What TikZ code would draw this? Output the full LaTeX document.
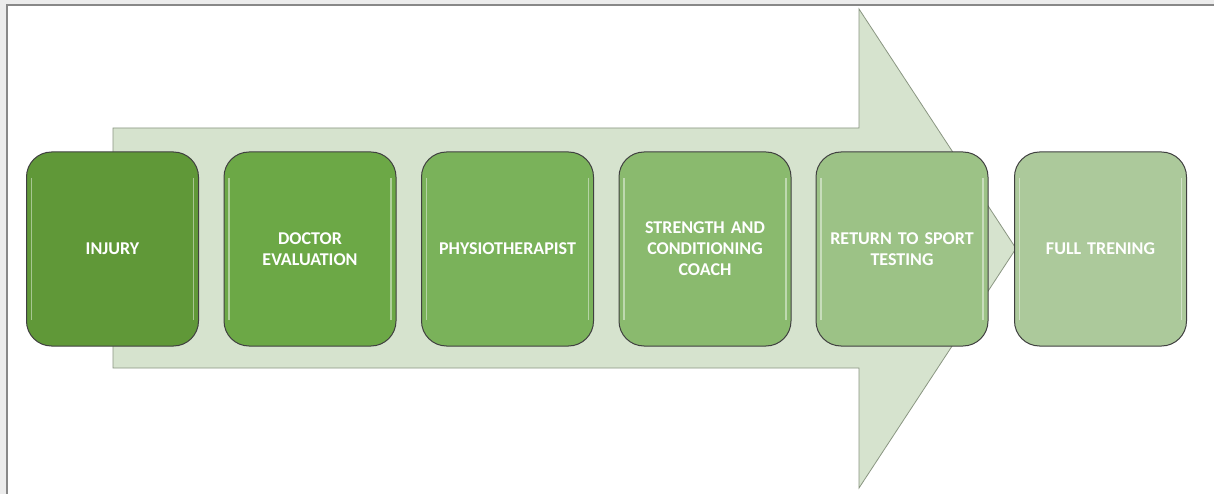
\documentclass[tikz,border=0pt]{standalone}
\usepackage{fontspec}
\setmainfont{Carlito}
\usepackage{tikz}

\definecolor{framegray}{RGB}{136,136,136}
\definecolor{pagegray}{RGB}{236,236,236}
\definecolor{arrowfill}{RGB}{214,227,206}
\definecolor{arrowline}{RGB}{138,150,130}
\definecolor{stepA}{RGB}{96,152,56}
\definecolor{stepB}{RGB}{108,168,70}
\definecolor{stepC}{RGB}{122,178,90}
\definecolor{stepD}{RGB}{138,186,110}
\definecolor{stepE}{RGB}{156,194,134}
\definecolor{stepF}{RGB}{172,201,155}

\begin{document}
\begin{tikzpicture}
            [x=1pt,y=1pt,every node/.style={rectangle,rounded corners=25pt,draw=black!75,line width=1pt,
              minimum width=172pt,minimum height=194pt,text width=160pt,align=center,
              font=\bfseries\fontsize{18}{21}\selectfont,text=white,
              path picture={
                \draw[white,opacity=.45,line width=1.8pt]
                  ([xshift=5pt,yshift=-26pt]path picture bounding box.north west) -- ([xshift=5pt,yshift=26pt]path picture bounding box.south west);
                \draw[white,opacity=.45,line width=1.8pt]
                  ([xshift=-5pt,yshift=-26pt]path picture bounding box.north east) -- ([xshift=-5pt,yshift=26pt]path picture bounding box.south east);
              }}]
            \useasboundingbox (0,0) rectangle (1214,493);
            \fill[pagegray] (-5,-5) rectangle (1220,500);
            \fill[white] (7,-5) rectangle (1220,488);
            \draw[framegray,line width=2pt] (7,-5) -- (7,488) -- (1220,488);
            \draw[arrowline,fill=arrowfill,line width=0.8pt] (113,125) -- (113,365) -- (859,365) -- (859,484)
                -- (1016,244.5) -- (859,5) -- (859,125) -- cycle;
            \node[fill=stepA] (injury) at (112.5,244) {INJURY};
            \node[fill=stepB] (doctor) at (310,244) {DOCTOR\\EVALUATION};
            \node[fill=stepC] (physio) at (507.5,244) {PHYSIOTHERAPIST};
            \node[fill=stepD] (coach) at (705,244) {STRENGTH AND\\CONDITIONING\\COACH};
            \node[fill=stepE] (rts) at (902,244) {RETURN TO SPORT\\TESTING};
            \node[fill=stepF] (full) at (1100.5,244) {FULL TRENING};

        \end{tikzpicture}
\end{document}
